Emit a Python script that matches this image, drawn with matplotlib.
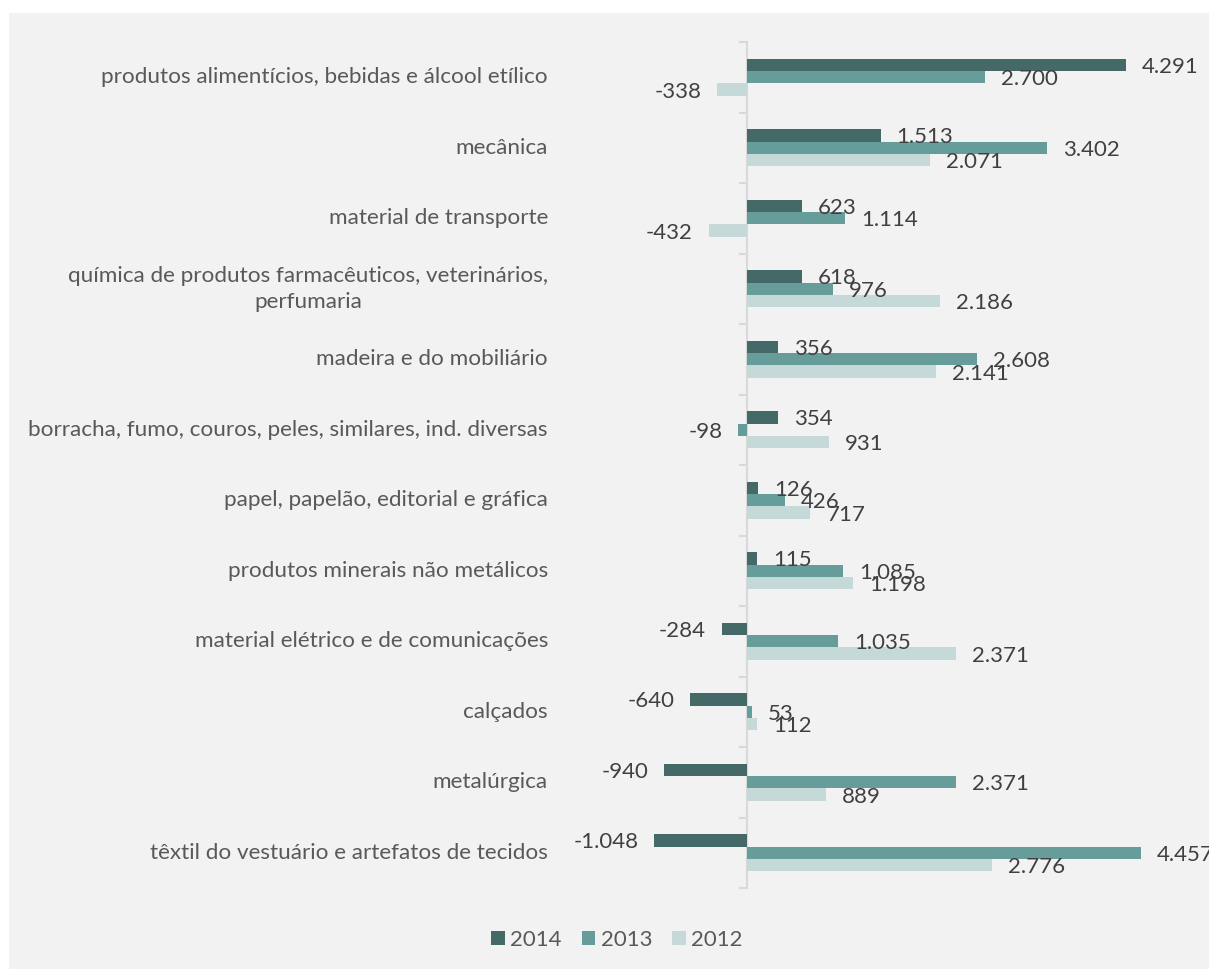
import matplotlib
matplotlib.use("Agg")
import matplotlib.pyplot as plt
from matplotlib.patches import Rectangle
from matplotlib.transforms import blended_transform_factory
import numpy as np

categories = [
    "produtos alimentícios, bebidas e álcool etílico",
    "mecânica",
    "material de transporte",
    "química de produtos farmacêuticos, veterinários,\nperfumaria",
    "madeira e do mobiliário",
    "borracha, fumo, couros, peles, similares, ind. diversas",
    "papel, papelão, editorial e gráfica",
    "produtos minerais não metálicos",
    "material elétrico e de comunicações",
    "calçados",
    "metalúrgica",
    "têxtil do vestuário e artefatos de tecidos",
]
series_names = ["2014", "2013", "2012"]
v2014 = [4291, 1513, 623, 618, 356, 354, 126, 115, -284, -640, -940, -1048]
v2013 = [2700, 3402, 1114, 976, 2608, -98, 426, 1085, 1035, 53, 2371, 4457]
v2012 = [-338, 2071, -432, 2186, 2141, 931, 717, 1198, 2371, 112, 889, 2776]
colors = ["#456966", "#669c99", "#c5d9d8"]

W, H = 1209, 969
fig = plt.figure(figsize=(W / 100, H / 100), dpi=100)
fig.patch.set_facecolor("white")
fig.patches.append(Rectangle((9 / W, 0), 1 - 9 / W, 1 - 13 / H, transform=fig.transFigure,
                             facecolor="#f2f2f2", edgecolor="none", zorder=-10))

top_px, bot_px = 42, 888
ax = fig.add_axes([9 / W, 1 - bot_px / H, 1 - 9 / W, (bot_px - top_px) / H])
ax.set_facecolor("none")
scale = (1126 - 747) / 4291.0  # px per unit
ax.set_xlim(-(747 - 9) / scale, (1209 - 747) / scale)
n = len(categories)
ax.set_ylim(n - 0.5, -0.5)
for s in ax.spines.values():
    s.set_visible(False)
ax.set_xticks([])
ax.set_yticks([])

y = np.arange(n)
bh = 0.177
allvals = [v2014, v2013, v2012]
for i, (vals, c, name) in enumerate(zip(allvals, colors, series_names)):
    pos = y + (i - 1) * bh
    ax.barh(pos, vals, height=bh, color=c, label=name, zorder=3)
    for p, v in zip(pos, vals):
        txt = f"{v:,}".replace(",", ".")
        off = 11.5 if v >= 0 else -11.5
        ax.annotate(txt, (v, p), xytext=(off, -1.5), textcoords="offset points",
                    ha="left" if v >= 0 else "right", va="center",
                    fontsize=16, color="#404040", family="Lato", zorder=4,
                    annotation_clip=False)

# zero axis line and tick marks
ax.axvline(0, color="#d9d9d9", lw=1.5, zorder=2)
trans_tick = blended_transform_factory(fig.transFigure, ax.transData)
for b in np.arange(n + 1) - 0.5:
    ax.plot([740 / W, 747 / W], [b, b], transform=trans_tick, color="#d9d9d9", lw=1.5,
            clip_on=False, zorder=2)

for yi, cat in zip(y, categories):
    ax.text(548 / W, yi, cat, transform=trans_tick, ha="right", va="center",
            multialignment="center", fontsize=16.2, color="#595959", family="Lato",
            linespacing=1.4)

handles, labels = ax.get_legend_handles_labels()
leg = fig.legend(handles, labels, loc="center", bbox_to_anchor=(617 / W, 1 - 940 / H),
                 ncol=3, frameon=False, handlelength=0.6, handleheight=0.6,
                 handletextpad=0.25, columnspacing=0.9, labelcolor="#595959",
                 prop={"family": "Lato", "size": 16})

fig.savefig("out.png", dpi=100, facecolor=fig.get_facecolor())
